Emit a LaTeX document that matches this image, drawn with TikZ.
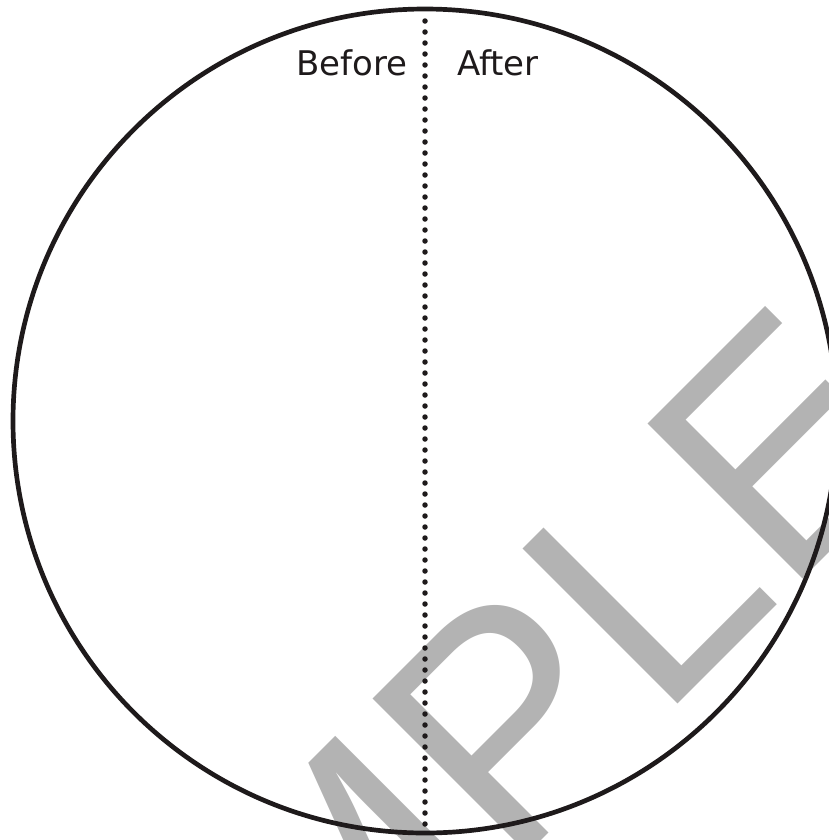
\documentclass[tikz,border=0pt]{standalone}
\usepackage{fontspec}
\setmainfont{DejaVu Sans}
\newfontfamily\wmfont{Liberation Sans}
\definecolor{wmgray}{RGB}{179,179,179}
\definecolor{inkblack}{RGB}{30,26,27}

\begin{document}
\begin{tikzpicture}[
  x=0.3mm, y=-0.3mm,
  line join=round,
  rim/.style={draw=inkblack, line width=4pt},
  divider/.style={draw=inkblack, line width=1.65mm, line cap=round, dash pattern=on 0pt off 3.3mm},
  side/.style={inner sep=0pt, font=\fontsize{29}{29}\selectfont, text=inkblack},
  wmark/.style={inner sep=0pt, rotate=45, anchor=base, text=wmgray, font=\wmfont\fontsize{272}{272}\selectfont},
]
\useasboundingbox (0,0) rectangle (829,840);
\clip (0,0) rectangle (829,840);

% the watermark, under everything else
\node[wmark] (stamp) at (478,904) {SAMPLE};

% the circle and the dotted divider
\draw[rim] (425,421) circle (412);
\coordinate (divtop) at (425,21);
\coordinate (divbot) at (425,835);
\draw[divider] (divtop) -- (divbot);

% the two halves
\node[side, anchor=base east] (before) at (408,75) {Before};
\node[side, anchor=base west] (after) at (457,75) {After};

\end{tikzpicture}
\end{document}
